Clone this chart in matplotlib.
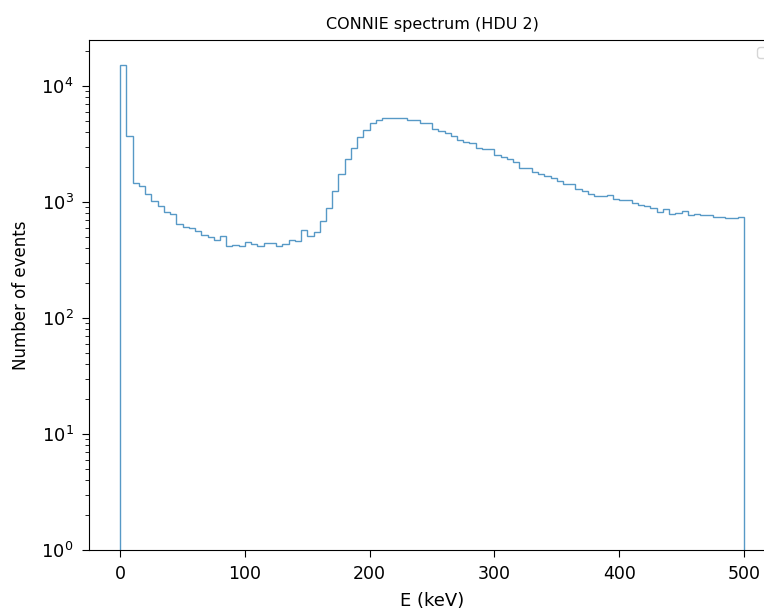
import matplotlib
matplotlib.use("Agg")
import matplotlib.pyplot as plt
import numpy as np

# Bin edges of the energy histogram (keV), 5 keV bins
bin_edges = np.arange(0, 505, 5)

# Counts per bin
counts = [
    15200, 3750, 1463, 1387, 1181, 1020, 917, 818, 792, 648,
    615, 594, 567, 524, 496, 474, 506, 420, 429, 420,
    455, 434, 420, 440, 440, 420, 434, 470, 458, 570,
    513, 548, 693, 888, 1239, 1763, 2350, 2910, 3625, 4200,
    4800, 5060, 5300, 5300, 5300, 5300, 5060, 5060, 4800, 4800,
    4290, 4120, 3925, 3725, 3437, 3325, 3215, 2910, 2850, 2850,
    2545, 2462, 2333, 2197, 1988, 1988, 1823, 1763, 1672, 1627,
    1513, 1425, 1425, 1306, 1239, 1181, 1121, 1121, 1143, 1055,
    1035, 1035, 980, 948, 917, 887, 818, 864, 792, 808,
    835, 776, 792, 776, 776, 741, 741, 726, 726, 741,
]

centers = (bin_edges[:-1] + bin_edges[1:]) / 2

fig = plt.figure(figsize=(7.64, 6.11), dpi=100)
# the original picture is cropped on the right, so the axes run past the edge
ax = fig.add_axes([0.1165, 0.0998, 0.898, 0.8347])

ax.hist(centers, bins=bin_edges, weights=counts, histtype='step',
        color='C0', alpha=0.75, log=True)
ax.set_ylim(1, 25000)
ax.set_title('CONNIE spectrum (HDU 2)', fontsize=11.5, pad=8)
ax.set_xlabel('E (keV)', fontsize=13, labelpad=6)
ax.set_ylabel('Number of events', fontsize=12, labelpad=8)
ax.tick_params(axis='x', which='major', labelsize=12.5, length=5, pad=6)
ax.tick_params(axis='y', which='major', labelsize=13, length=5, pad=6)
ax.tick_params(axis='y', which='minor', length=3)
ax.legend(loc='upper right')

fig.savefig('out.png', dpi=100)
